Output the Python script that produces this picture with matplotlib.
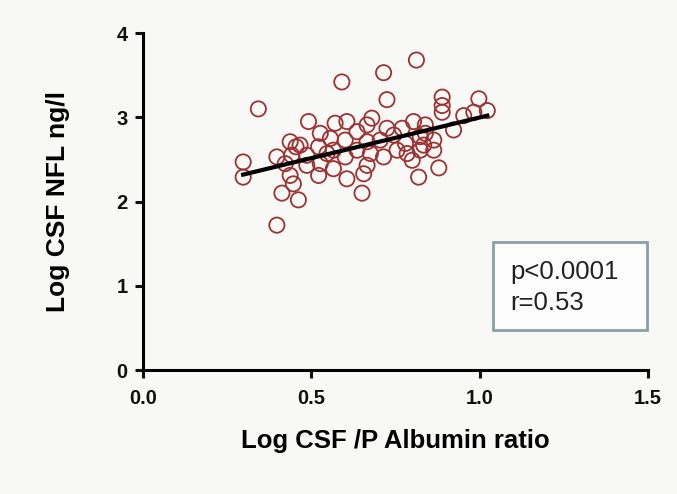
import matplotlib
matplotlib.use("Agg")
import matplotlib.pyplot as plt
from matplotlib.patches import Rectangle

x_vals = [0.343, 0.591, 0.715, 0.8125, 0.725, 0.398, 0.298, 0.298, 0.413, 0.462,
          0.651, 0.819, 0.879, 0.998, 1.023, 0.889, 0.889, 0.889, 0.953, 0.983,
          0.492, 0.571, 0.680, 0.666, 0.804, 0.770, 0.839, 0.824, 0.864, 0.864,
          0.785, 0.800, 0.834, 0.745, 0.715, 0.666, 0.656, 0.606, 0.522, 0.527,
          0.566, 0.601, 0.636, 0.676, 0.636, 0.601, 0.557, 0.527, 0.522, 0.547,
          0.487, 0.467, 0.4375, 0.442, 0.398, 0.423, 0.4375, 0.447, 0.606, 0.725,
          0.755, 0.780, 0.705, 0.666, 0.566, 0.487, 0.923, 0.824, 0.839, 0.455]
y_vals = [3.10, 3.42, 3.53, 3.68, 3.21, 1.72, 2.47, 2.29, 2.10, 2.02,
          2.10, 2.29, 2.40, 3.22, 3.08, 3.24, 3.14, 3.06, 3.02, 3.06,
          2.95, 2.93, 2.99, 2.91, 2.95, 2.87, 2.91, 2.77, 2.73, 2.61,
          2.57, 2.49, 2.67, 2.79, 2.53, 2.43, 2.33, 2.27, 2.31, 2.45,
          2.39, 2.53, 2.61, 2.57, 2.83, 2.73, 2.75, 2.81, 2.65, 2.57,
          2.55, 2.67, 2.71, 2.55, 2.53, 2.45, 2.31, 2.21, 2.95, 2.87,
          2.61, 2.69, 2.73, 2.71, 2.61, 2.43, 2.85, 2.61, 2.81, 2.65]
fit_x = [0.298, 1.023]
fit_y = [2.32, 3.02]
x_ticks = [0.0, 0.5, 1.0, 1.5]
x_tick_labels = ["0.0", "0.5", "1.0", "1.5"]
y_ticks = [0, 1, 2, 3, 4]
y_tick_labels = ["0", "1", "2", "3", "4"]
stats_lines = ["p<0.0001", "r=0.53"]

plt.rcParams['font.family'] = ['Liberation Sans', 'DejaVu Sans']
bg = '#f8f9f6'
fig = plt.figure(figsize=(6.77, 4.94), dpi=100, facecolor=bg)
ax = fig.add_axes([0.211, 0.251, 0.746, 0.682])
ax.set_facecolor(bg)

ax.scatter(x_vals, y_vals, s=120, facecolors='none', edgecolors='#9e3232',
           linewidths=1.3, zorder=2)
ax.plot(fit_x, fit_y, color='black', lw=3, zorder=3)

ax.set_xlim(0, 1.5)
ax.set_ylim(0, 4)
ax.set_xticks(x_ticks)
ax.set_xticklabels(x_tick_labels, fontweight='bold', fontsize=14.5)
ax.set_yticks(y_ticks)
ax.set_yticklabels(y_tick_labels, fontweight='bold', fontsize=14.5)
ax.spines['top'].set_visible(False)
ax.spines['right'].set_visible(False)
for s in ['left', 'bottom']:
    ax.spines[s].set_linewidth(2.2)
    ax.spines[s].set_clip_on(False)
ax.tick_params(direction='out', length=6, width=2.2, colors='#111111')
ax.tick_params(axis='x', pad=8)
ax.tick_params(axis='y', pad=5)

ax.set_xlabel("Log CSF /P Albumin ratio", fontweight='bold', fontsize=18.5, labelpad=15)
ax.set_ylabel("Log CSF NFL ng/l", fontweight='bold', fontsize=19, labelpad=33)

ax.add_patch(Rectangle((0.693, 0.119), 0.305, 0.261, transform=ax.transAxes,
                       facecolor='#fbfcfb', edgecolor='#8aa0a4', linewidth=2.0,
                       zorder=4, clip_on=False))
ax.text(0.727, 0.291, stats_lines[0], transform=ax.transAxes, fontsize=18.5,
        va='center', ha='left', color='#222222', zorder=5)
ax.text(0.727, 0.199, stats_lines[1], transform=ax.transAxes, fontsize=18.5,
        va='center', ha='left', color='#222222', zorder=5)

fig.savefig("out.png", dpi=100, facecolor=bg)
